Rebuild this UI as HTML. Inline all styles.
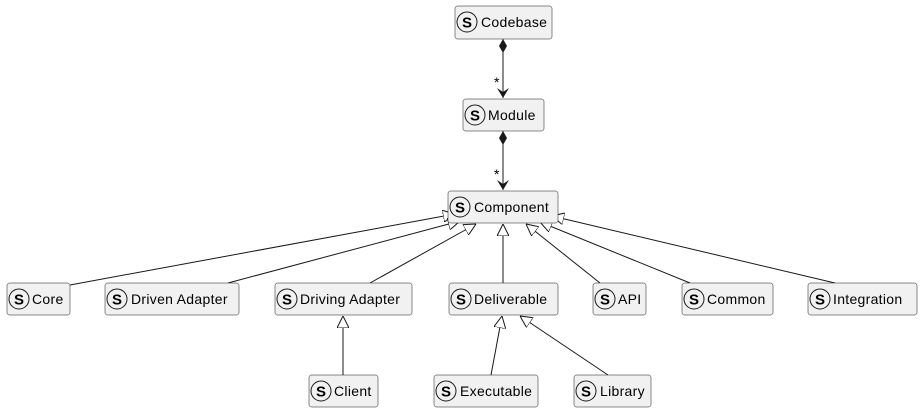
<!DOCTYPE html>
<html><head><meta charset="utf-8"><style>
html,body{margin:0;padding:0;background:#fff;}
svg text{font-family:"Liberation Sans","DejaVu Sans",sans-serif;font-size:14px;fill:#000;}
.l text{letter-spacing:0.3px;}
</style></head><body>
<svg width="922" height="413" viewBox="0 0 922 413" xmlns="http://www.w3.org/2000/svg">
<defs>
<marker id="tri" viewBox="0 0 12 12" refX="12" refY="6" markerWidth="12" markerHeight="12" markerUnits="userSpaceOnUse" orient="auto">
<path d="M0,0 L12,6 L0,12 Z" fill="#fff" stroke="#181818" stroke-width="1"/>
</marker>
<marker id="arr" viewBox="0 0 10 12" refX="10" refY="6" markerWidth="10" markerHeight="12" markerUnits="userSpaceOnUse" orient="auto">
<path d="M0,0 L10,6 L0,12 L4,6 Z" fill="#181818"/>
</marker>
<marker id="dia" viewBox="0 0 14 8" refX="0" refY="4" markerWidth="14" markerHeight="8" markerUnits="userSpaceOnUse" orient="auto">
<path d="M0,4 L7,0 L14,4 L7,8 Z" fill="#181818"/>
</marker>
</defs>
<g stroke="#181818" stroke-width="1" fill="none">
<line x1="503" y1="39" x2="503" y2="98" marker-start="url(#dia)" marker-end="url(#arr)"/>
<line x1="503" y1="131" x2="503" y2="190" marker-start="url(#dia)" marker-end="url(#arr)"/>
<line x1="70" y1="285" x2="455" y2="214" marker-end="url(#tri)"/>
<line x1="228" y1="283" x2="460" y2="221" marker-end="url(#tri)"/>
<line x1="370" y1="283" x2="476" y2="224" marker-end="url(#tri)"/>
<line x1="503" y1="283" x2="503" y2="224" marker-end="url(#tri)"/>
<line x1="600" y1="283" x2="526" y2="224" marker-end="url(#tri)"/>
<line x1="690" y1="283" x2="540" y2="222" marker-end="url(#tri)"/>
<line x1="835" y1="283" x2="552" y2="216" marker-end="url(#tri)"/>
<line x1="343" y1="375" x2="343" y2="316" marker-end="url(#tri)"/>
<line x1="491" y1="375" x2="502" y2="316" marker-end="url(#tri)"/>
<line x1="608" y1="375" x2="520" y2="316" marker-end="url(#tri)"/>
</g>
<g stroke="#181818" stroke-width="0.5" fill="#f1f1f1">
<rect x="455" y="6" width="97" height="33" rx="2.5"/>
<rect x="463" y="99" width="81" height="32" rx="2.5"/>
<rect x="448" y="191" width="110" height="32" rx="2.5"/>
<rect x="7" y="283" width="63" height="32" rx="2.5"/>
<rect x="105" y="283" width="134" height="32" rx="2.5"/>
<rect x="275" y="283" width="137" height="32" rx="2.5"/>
<rect x="449" y="283" width="109" height="32" rx="2.5"/>
<rect x="593" y="283" width="53" height="32" rx="2.5"/>
<rect x="682" y="283" width="91" height="32" rx="2.5"/>
<rect x="808" y="283" width="109" height="32" rx="2.5"/>
<rect x="309" y="375" width="69" height="32" rx="2.5"/>
<rect x="434" y="375" width="104" height="32" rx="2.5"/>
<rect x="574" y="375" width="77" height="32" rx="2.5"/>
</g>
<g stroke="#181818" stroke-width="1" fill="none">
<circle cx="467" cy="22" r="10"/>
<circle cx="475" cy="115" r="10"/>
<circle cx="460" cy="207" r="10"/>
<circle cx="19" cy="299" r="10"/>
<circle cx="117" cy="299" r="10"/>
<circle cx="287" cy="299" r="10"/>
<circle cx="461" cy="299" r="10"/>
<circle cx="605" cy="299" r="10"/>
<circle cx="694" cy="299" r="10"/>
<circle cx="820" cy="299" r="10"/>
<circle cx="321" cy="391" r="10"/>
<circle cx="446" cy="391" r="10"/>
<circle cx="586" cy="391" r="10"/>
</g>
<g text-anchor="middle">
<text x="467" y="27.5" style="font-weight:bold;font-size:15px">S</text>
<text x="475" y="120.5" style="font-weight:bold;font-size:15px">S</text>
<text x="460" y="212.5" style="font-weight:bold;font-size:15px">S</text>
<text x="19" y="304.5" style="font-weight:bold;font-size:15px">S</text>
<text x="117" y="304.5" style="font-weight:bold;font-size:15px">S</text>
<text x="287" y="304.5" style="font-weight:bold;font-size:15px">S</text>
<text x="461" y="304.5" style="font-weight:bold;font-size:15px">S</text>
<text x="605" y="304.5" style="font-weight:bold;font-size:15px">S</text>
<text x="694" y="304.5" style="font-weight:bold;font-size:15px">S</text>
<text x="820" y="304.5" style="font-weight:bold;font-size:15px">S</text>
<text x="321" y="396.5" style="font-weight:bold;font-size:15px">S</text>
<text x="446" y="396.5" style="font-weight:bold;font-size:15px">S</text>
<text x="586" y="396.5" style="font-weight:bold;font-size:15px">S</text>
</g>
<g class="l">
<text x="481" y="27">Codebase</text>
<text x="488" y="120">Module</text>
<text x="474" y="212">Component</text>
<text x="32" y="304">Core</text>
<text x="131" y="304">Driven Adapter</text>
<text x="300" y="304">Driving Adapter</text>
<text x="474" y="304">Deliverable</text>
<text x="618" y="304">API</text>
<text x="707" y="304">Common</text>
<text x="833" y="304">Integration</text>
<text x="334" y="396">Client</text>
<text x="460" y="396">Executable</text>
<text x="600" y="396">Library</text>
<text x="494" y="87">*</text>
<text x="494" y="179">*</text>
</g>
</svg>
</body></html>
